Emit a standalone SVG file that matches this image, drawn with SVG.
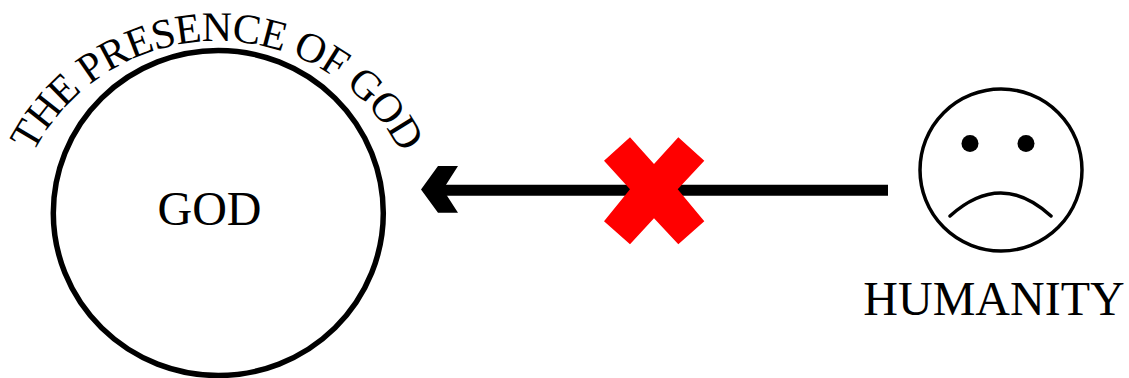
<svg xmlns="http://www.w3.org/2000/svg" width="1129" height="378" viewBox="0 0 1129 378">
<style>
text{font-family:"Liberation Serif","Times New Roman",serif;fill:#000}
.big{font-size:48px;text-anchor:middle}
.arc{font-size:42px;text-anchor:middle;letter-spacing:-0.8px}
</style>
<defs><path id="arcPath" d="M 10 248 A 207 207 0 0 1 424 248"/></defs>
<rect width="1129" height="378" fill="#fff"/>
<g id="god">
<ellipse cx="218.300" cy="213" rx="165" ry="162.500" fill="none" stroke="#000" stroke-width="5.500"/>
<text class="big" x="209.500" y="225">GOD</text>
<text class="arc"><textPath href="#arcPath" startOffset="50%">THE PRESENCE OF GOD</textPath></text>
</g>
<g id="connectors">
<path d="M888 190.300H440" stroke="#000" stroke-width="11" fill="none"/>
<path d="M421 189.500L438 166H458L443 189.500L458 212.700H438Z" fill="#000"/>
</g>
<g id="cross">
<path d="M630 137.300L654 164L678.300 137.300L704.300 160.700L677.700 189.300L704.300 221.300L678.300 244.300L654 218.300L630 244.300L604 221.300L630 189.300L604 160.700Z" fill="#f00"/>
</g>
<g id="humanity">
<circle cx="1001" cy="170" r="81" fill="#fff" stroke="#000" stroke-width="3.500"/>
<circle cx="970" cy="143.500" r="8.500" fill="#000"/>
<circle cx="1026" cy="143.500" r="8.500" fill="#000"/>
<path d="M950 216Q1001 170 1051 216" fill="none" stroke="#000" stroke-width="3.500" stroke-linecap="round"/>
<text class="big" x="994" y="315">HUMANITY</text>
</g>
</svg>
